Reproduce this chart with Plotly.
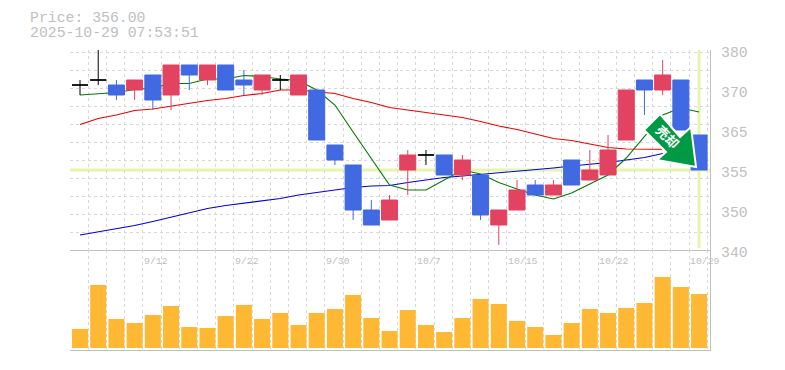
import plotly.graph_objects as go

dates = ["9/8","9/9","9/10","9/11","9/12","9/16","9/17","9/18","9/19","9/22","9/24","9/25","9/26","9/29","9/30",
         "10/1","10/2","10/3","10/6","10/7","10/8","10/9","10/10","10/14","10/15","10/16","10/17","10/20","10/21","10/22",
         "10/23","10/24","10/27","10/28","10/29"]
opens  = [373,374,373,372,375,371,377,374,377,374,372,374,371,372,361,357,348,346,356,359,359,355,355,345,348,353,351,358,354,355,362,374,372,374,363]
highs  = [374,380,374,374,375,377,377,377,377,376,375,375,375,372,361,357,350,351,360,360,359,359,355,348,354,354,354,358,360,363,372,374,378,374,363]
lows   = [371,373,370,370,368,368,372,373,372,371,371,372,371,362,357,346,345,346,351,357,355,354,346,341,348,351,351,353,354,355,362,367,371,364,356]
closes = [373,374,371,374,370,377,375,377,372,373,375,374,375,362,358,348,345,350,359,359,355,358,347,348,352,351,353,353,356,360,372,372,375,364,356]
volumes = [19,63,29,25,33,42,21,20,32,43,29,35,23,35,39,53,30,17,38,23,16,30,49,44,27,21,13,25,39,35,40,45,71,61,54]
ma_short = [371.0,371.3,371.5,372.1,372.4,373.3,373.3,374.2,374.2,374.9,374.7,374.2,373.9,372.0,369.0,363.6,358.2,353.0,352.0,352.0,354.0,356.0,355.2,353.5,352.2,351.0,350.2,351.4,353.2,355.0,358.4,362.8,367.0,368.4,367.6]
ma_mid = [365.1,366.3,367.0,367.9,368.2,368.8,369.3,369.9,370.3,370.9,371.3,372.0,372.0,371.7,371.3,370.3,369.5,368.5,368.0,367.5,367.0,366.5,365.7,364.8,364.1,363.2,362.3,361.9,361.2,360.5,360.2,360.2,360.1,360.1,360.0]
ma_long = [343.0,343.6,344.2,344.9,345.7,346.6,347.5,348.3,348.9,349.4,349.9,350.3,351.0,351.5,352.0,352.5,352.8,352.9,353.5,354.0,354.5,354.8,355.1,355.5,355.7,356.1,356.4,356.8,357.1,357.5,358.0,358.5,359.3,359.6,359.9]
y_tick_vals = [380,372,364,356,348,340]
y_tick_text = ["380","370","365","355","350","340"]
x_label_idx = [4,9,14,19,24,29,34]
last_price = 356
title_lines = ["Price: 356.00", "2025-10-29 07:53:51"]
arrow_text = "売却"

W, H = 785, 370
GRAY = "#c0c0c0"
GRID = "#d8d8d8"
idx = list(range(len(dates)))
xr = [-0.55, 34.6]
dom_x = [70/W, 710/W]
px = lambda x: x / W
py = lambda y: 1 - y / H

fig = go.Figure()
for vals, col in ((ma_long, "#0000e0"), (ma_mid, "#f00000"), (ma_short, "#007a00")):
    fig.add_trace(go.Scatter(x=idx, y=vals, mode="lines", line=dict(color=col, width=1.1),
                             xaxis="x", yaxis="y", hoverinfo="skip"))

body = [i for i in idx if opens[i] != closes[i]]
doji = [i for i in idx if opens[i] == closes[i]]
def candle(sel, up, down):
    return go.Candlestick(x=sel, open=[opens[i] for i in sel], high=[highs[i] for i in sel],
                          low=[lows[i] for i in sel], close=[closes[i] for i in sel],
                          increasing=dict(line=dict(color=up, width=1), fillcolor=up),
                          decreasing=dict(line=dict(color=down, width=1), fillcolor=down),
                          whiskerwidth=0, xaxis="x3", yaxis="y3", hoverinfo="skip")
fig.add_trace(candle(body, "#e24360", "#4169e1"))
fig.add_trace(candle(doji, "#000000", "#000000"))

fig.add_trace(go.Bar(x=idx, y=volumes, width=0.88, marker=dict(color="#ffb833", line=dict(width=0)),
                     xaxis="x2", yaxis="y2", hoverinfo="skip"))

minor_x = dict(showgrid=True, gridcolor=GRID, griddash="3px,3px", gridwidth=1, tick0=-0.55, dtick=1, ticklen=0)
common_x = dict(range=xr, domain=dom_x, showticklabels=False, showgrid=False, zeroline=False, ticks="",
                showline=True, linecolor=GRAY, linewidth=1, rangeslider=dict(visible=False), tickmode="array", tickvals=[])
fig.update_layout(
    width=W, height=H, margin=dict(l=0, r=0, t=0, b=0), paper_bgcolor="white", plot_bgcolor="white",
    showlegend=False, hovermode=False, boxgap=0.12, boxgroupgap=0, bargap=0.12,
    xaxis=dict(common_x, anchor="y", minor=minor_x),
    xaxis2=dict(common_x, anchor="y2", minor=minor_x),
    xaxis3=dict(range=xr, overlaying="x", anchor="y3", visible=False, rangeslider=dict(visible=False)),
    yaxis=dict(domain=[py(250), py(50)], range=[340, 380], side="right", anchor="x", showticklabels=False,
               showgrid=False, zeroline=False, ticks="", showline=True, linecolor=GRAY, linewidth=1,
               tickmode="array", tickvals=[],
               minor=dict(showgrid=True, gridcolor=GRID, griddash="3px,3px", gridwidth=1, tick0=340, dtick=3.6, ticklen=0)),
    yaxis2=dict(domain=[py(350), py(250)], range=[-2, 98], side="right", anchor="x2", showticklabels=False,
                showgrid=False, zeroline=False, ticks="", showline=True, linecolor=GRAY, linewidth=1),
    yaxis3=dict(range=[340, 380], overlaying="y", anchor="x3", visible=False),
)

CROSS = "#e6f5ac"
fig.add_shape(type="line", xref="x", yref="y", x0=xr[0], x1=xr[1], y0=last_price, y1=last_price,
              line=dict(color=CROSS, width=3), layer="below")
fig.add_shape(type="line", xref="x", yref="y", x0=idx[-1], x1=idx[-1], y0=340.4, y1=380,
              line=dict(color=CROSS, width=3), layer="below")

arrow_px = [(660,114),(644,130),(666,152),(657,160),(696,167),(691,127),(680,137)]
path = "M " + " L ".join(f"{px(x):.5f},{py(y):.5f}" for x, y in arrow_px) + " Z"
fig.add_shape(type="path", xref="paper", yref="paper", path=path, fillcolor="#009944",
              line=dict(color="white", width=2), layer="above")
# Empty box centred on the arrow's shaft, carrying its rotated real-text label.
fig.add_shape(type="rect", xref="paper", yref="paper", x0=px(656), x1=px(677), y0=py(148), y1=py(128),
              line=dict(width=0), fillcolor="rgba(0,0,0,0)", layer="above",
              label=dict(text=arrow_text, textangle=45, textposition="middle center",
                         font=dict(family="Noto Sans CJK JP", size=13, color="#ffffff", weight=700)))

mono = "Liberation Mono, DejaVu Sans Mono, monospace"
anns = []
for text, y in zip(title_lines, (18, 33)):
    anns.append(dict(x=px(28), y=py(y), xref="paper", yref="paper", text=text, showarrow=False, xanchor="left",
                     yanchor="middle", font=dict(family=mono, size=14.8, color=GRAY)))
for v, t in zip(y_tick_vals, y_tick_text):
    anns.append(dict(x=px(719), y=v, xref="paper", yref="y", text=t, showarrow=False, xanchor="left", yanchor="middle",
                     yshift=-3, font=dict(family=mono, size=14.8, color=GRAY)))
for i in x_label_idx:
    anns.append(dict(x=i, y=py(261), xref="x", yref="paper", text=dates[i], showarrow=False, xanchor="left",
                     yanchor="middle", xshift=-11, font=dict(family=mono, size=9.8, color=GRAY)))
fig.update_layout(annotations=anns)

fig.write_html("out.html", config=dict(displayModeBar=False),
               post_script="document.documentElement.style.margin='0';document.body.style.margin='0';document.body.style.overflow='hidden';")
